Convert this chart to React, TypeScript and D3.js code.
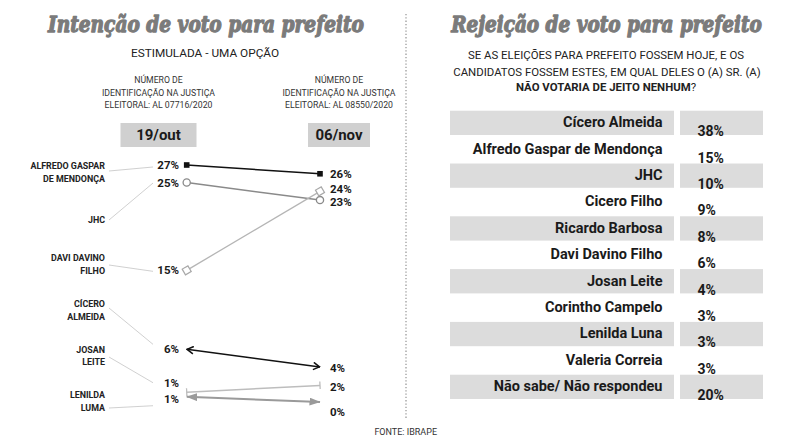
import React, { useEffect, useRef } from 'react';
import * as d3 from 'd3';

// Left panel: stimulated vote intention, two survey dates
const periods = ['19/out', '06/nov'];
const periodRegistry = ['ELEITORAL: AL 07716/2020', 'ELEITORAL: AL 08550/2020'];
const candidateLines = [
  ['ALFREDO GASPAR', 'DE MENDONÇA'],
  ['JHC'],
  ['DAVI DAVINO', 'FILHO'],
  ['CÍCERO', 'ALMEIDA'],
  ['JOSAN', 'LEITE'],
  ['LENILDA', 'LUMA'],
];
const votesOct19 = [27, 25, 15, 6, 1, 1];
const votesNov06 = [26, 23, 24, 4, 2, 0];

// Right panel: rejection
const rejectionNames = [
  'Cícero Almeida',
  'Alfredo Gaspar de Mendonça',
  'JHC',
  'Cicero Filho',
  'Ricardo Barbosa',
  'Davi Davino Filho',
  'Josan Leite',
  'Corintho Campelo',
  'Lenilda Luna',
  'Valeria Correia',
  'Não sabe/ Não respondeu',
];
const rejectionValues = [38, 15, 10, 9, 8, 6, 4, 3, 3, 3, 20];

// per-series look (marks, label nudges, leader lines)
const seriesStyle = [
  { color: '#111', width: 1.6, symbol: 'square', ends: '', startDy: 0, endDy: 0, lDy: 4, rDy: 4.5, nameY: 169, leadA: 2, leadB: -2 },
  { color: '#8a8a8a', width: 1.5, symbol: 'circle', ends: '', startDy: 0, endDy: 0, lDy: 4.5, rDy: 5.5, nameY: 222.5, leadA: -2.5, leadB: -4 },
  { color: '#b5b5b5', width: 1.3, symbol: 'diamond', ends: '', startDy: 0, endDy: 0, lDy: 4, rDy: 1.5, nameY: 261, leadA: 4, leadB: -3 },
  { color: '#111', width: 1.5, symbol: '', ends: 'chevron', startDy: 0, endDy: 0, lDy: 4, rDy: 5, nameY: 307, leadA: 1, leadB: -9 },
  { color: '#bdbdbd', width: 1.5, symbol: '', ends: 'bar', startDy: -1, endDy: 1, lDy: -5.5, rDy: 6, nameY: 352.5, leadA: 4.5, leadB: -4 },
  { color: '#9a9a9a', width: 2, symbol: '', ends: 'triangle', startDy: 3.5, endDy: 0, lDy: 6, rDy: 14, nameY: 398, leadA: 10, leadB: 3 },
];

const SANS = 'Roboto, "Open Sans", sans-serif';
const SLAB = '"DejaVu Serif", serif';

const App = () => {
  const ref = useRef<SVGSVGElement | null>(null);

  useEffect(() => {
    const svg = d3.select(ref.current);
    svg.selectAll('*').remove();

    const defs = svg.append('defs');
    const marker = (id: string, path: string, w: number, h: number, fill: string, stroke: string) => {
      defs.append('marker')
        .attr('id', id)
        .attr('viewBox', `0 0 ${w} ${h}`)
        .attr('refX', w - 0.5)
        .attr('refY', h / 2)
        .attr('markerWidth', w)
        .attr('markerHeight', h)
        .attr('markerUnits', 'userSpaceOnUse')
        .attr('orient', 'auto-start-reverse')
        .append('path')
        .attr('d', path)
        .attr('fill', fill)
        .attr('stroke', stroke)
        .attr('stroke-width', 1.5);
    };
    marker('chevron', 'M0.8,0.8 L7,4.5 L0.8,8.2', 8, 9, 'none', '#111');
    marker('triangle', 'M0,0 L11,4 L0,8 Z', 11, 8, '#9a9a9a', 'none');
    defs.append('marker')
      .attr('id', 'bar')
      .attr('viewBox', '0 0 2 8')
      .attr('refX', 1)
      .attr('refY', 4)
      .attr('markerWidth', 2)
      .attr('markerHeight', 8)
      .attr('markerUnits', 'userSpaceOnUse')
      .attr('orient', 'auto')
      .append('path')
      .attr('d', 'M1,0 V8')
      .attr('stroke', '#bdbdbd')
      .attr('stroke-width', 1.3);

    // heavy slab titles, squeezed horizontally to the reference width
    const title = (cx: number, len: number, label: string) => {
      const tg = svg.append('g');
      const t = tg.append('text')
        .attr('x', 0)
        .attr('y', 0)
        .attr('text-anchor', 'middle')
        .attr('font-family', SLAB)
        .attr('font-weight', 900)
        .attr('font-style', 'italic')
        .attr('font-size', 22)
        .attr('fill', '#7b7b7b')
        .attr('stroke', '#7b7b7b')
        .attr('stroke-width', 1.3)
        .attr('stroke-linejoin', 'round')
        .text(label);
      const natural = (t.node() as SVGTextElement).getComputedTextLength() || len;
      tg.attr('transform', `translate(${cx},32) scale(${len / natural},1)`);
    };

    // ---------- Left panel ----------
    title(206, 316, 'Intenção de voto para prefeito');

    svg.append('text')
      .attr('x', 205)
      .attr('y', 57)
      .attr('text-anchor', 'middle')
      .attr('font-family', SANS)
      .attr('font-size', 11.8)
      .attr('fill', '#222')
      .text('ESTIMULADA - UMA OPÇÃO');

    const x = d3.scalePoint<string>()
      .domain(periods)
      .range([186.7, 320]);

    const y = d3.scaleLinear()
      .domain([0, 27])
      .range([402, 165]);

    const boxCenter = [158.5, 339];
    const boxWidth = [76, 62];
    periods.forEach((p, i) => {
      const note = svg.append('text')
        .attr('text-anchor', 'middle')
        .attr('font-family', SANS)
        .attr('font-size', 8.7)
        .attr('fill', '#333');
      ['NÚMERO DE', 'IDENTIFICAÇÃO NA JUSTIÇA', periodRegistry[i]].forEach((line, k) => {
        note.append('tspan')
          .attr('x', boxCenter[i])
          .attr('y', 83 + k * 12.5)
          .text(line);
      });
      svg.append('rect')
        .attr('x', boxCenter[i] - boxWidth[i] / 2)
        .attr('y', 123)
        .attr('width', boxWidth[i])
        .attr('height', 24)
        .attr('fill', '#d0d0d0');
      svg.append('text')
        .attr('x', boxCenter[i])
        .attr('y', 140)
        .attr('text-anchor', 'middle')
        .attr('font-family', SANS)
        .attr('font-weight', 'bold')
        .attr('font-size', 15)
        .attr('fill', '#1a1a1a')
        .text(p);
    });

    const g = svg.append('g');
    candidateLines.forEach((lines, i) => {
      const s = seriesStyle[i];
      const x0 = x(periods[0]) as number;
      const x1 = x(periods[1]) as number;
      const y0 = y(votesOct19[i]) + s.startDy;
      const y1 = y(votesNov06[i]) + s.endDy;

      // name label
      const name = g.append('text')
        .attr('text-anchor', 'end')
        .attr('font-family', SANS)
        .attr('font-weight', 'bold')
        .attr('font-size', 8.9)
        .attr('fill', '#222');
      lines.forEach((line, k) => {
        name.append('tspan')
          .attr('x', 105)
          .attr('y', s.nameY + k * 12.6)
          .text(line);
      });

      // leader line
      g.append('line')
        .attr('x1', 109)
        .attr('y1', s.nameY + s.leadA)
        .attr('x2', 153)
        .attr('y2', y0 + s.lDy + s.leadB)
        .attr('stroke', '#c4c4c4')
        .attr('stroke-width', 0.8);

      // connecting line
      const line = g.append('line')
        .attr('x1', x0)
        .attr('y1', y0)
        .attr('x2', x1)
        .attr('y2', y1)
        .attr('stroke', s.color)
        .attr('stroke-width', s.width);
      if (s.ends) {
        line.attr('marker-start', `url(#${s.ends})`).attr('marker-end', `url(#${s.ends})`);
      }

      // point symbols
      [[x0, y0], [x1, y1]].forEach(([px, py]) => {
        if (s.symbol === 'square') {
          g.append('rect')
            .attr('x', px - 2.8).attr('y', py - 2.8)
            .attr('width', 5.6).attr('height', 5.6)
            .attr('fill', s.color);
        } else if (s.symbol === 'circle') {
          g.append('circle')
            .attr('cx', px).attr('cy', py).attr('r', 3.6)
            .attr('fill', '#fff')
            .attr('stroke', s.color)
            .attr('stroke-width', 1.3);
        } else if (s.symbol === 'diamond') {
          g.append('rect')
            .attr('x', -3.3).attr('y', -3.3)
            .attr('width', 6.6).attr('height', 6.6)
            .attr('transform', `translate(${px},${py}) rotate(-30)`)
            .attr('fill', '#fff')
            .attr('stroke', '#a8a8a8')
            .attr('stroke-width', 1.2);
        }
      });

      // value labels
      g.append('text')
        .attr('x', 179)
        .attr('y', y0 + s.lDy)
        .attr('text-anchor', 'end')
        .attr('font-family', SANS)
        .attr('font-weight', 'bold')
        .attr('font-size', 11.5)
        .attr('fill', '#1a1a1a')
        .text(`${votesOct19[i]}%`);
      g.append('text')
        .attr('x', 330)
        .attr('y', y1 + s.rDy)
        .attr('font-family', SANS)
        .attr('font-weight', 'bold')
        .attr('font-size', 11.5)
        .attr('fill', '#1a1a1a')
        .text(`${votesNov06[i]}%`);
    });

    svg.append('text')
      .attr('x', 437)
      .attr('y', 435)
      .attr('text-anchor', 'end')
      .attr('font-family', SANS)
      .attr('font-size', 9)
      .attr('fill', '#333')
      .text('FONTE: IBRAPE');

    // dotted divider
    svg.append('line')
      .attr('x1', 406).attr('x2', 406)
      .attr('y1', 14).attr('y2', 418)
      .attr('stroke', '#9a9a9a')
      .attr('stroke-width', 1.3)
      .attr('stroke-dasharray', '1.3,2');

    // ---------- Right panel ----------
    title(606.5, 311, 'Rejeição de voto para prefeito');

    const question = svg.append('text')
      .attr('text-anchor', 'middle')
      .attr('font-family', SANS)
      .attr('font-size', 11.4)
      .attr('fill', '#222');
    question.append('tspan').attr('x', 606).attr('y', 59)
      .text('SE AS ELEIÇÕES PARA PREFEITO FOSSEM HOJE, E OS');
    question.append('tspan').attr('x', 607).attr('y', 76)
      .text('CANDIDATOS FOSSEM ESTES, EM QUAL DELES O (A) SR. (A)');
    const last = question.append('tspan').attr('x', 606).attr('y', 91);
    last.append('tspan').attr('font-weight', 'bold').text('NÃO VOTARIA DE JEITO NENHUM');
    last.append('tspan').text('?');

    const rows = d3.scaleBand<string>()
      .domain(rejectionNames)
      .range([110.7, 399])
      .paddingInner(0.08);

    const table = svg.append('g');
    rejectionNames.forEach((name, i) => {
      const top = rows(name) as number;
      if (i % 2 === 0) {
        table.append('rect')
          .attr('x', 450).attr('y', top)
          .attr('width', 224).attr('height', rows.bandwidth())
          .attr('fill', '#dcdcdc');
        table.append('rect')
          .attr('x', 680).attr('y', top)
          .attr('width', 83).attr('height', rows.bandwidth())
          .attr('fill', '#dcdcdc');
      }
      table.append('text')
        .attr('x', 662.5)
        .attr('y', top + 16.5)
        .attr('text-anchor', 'end')
        .attr('font-family', SANS)
        .attr('font-weight', 'bold')
        .attr('font-size', 14.5)
        .attr('fill', '#1a1a1a')
        .text(name);
      table.append('text')
        .attr('x', 697.5)
        .attr('y', top + 25.5)
        .attr('font-family', SANS)
        .attr('font-weight', 'bold')
        .attr('font-size', 14)
        .attr('fill', '#1a1a1a')
        .text(`${rejectionValues[i]}%`);
    });
  }, []);

  return (
    <div style={{ position: 'absolute', left: 0, top: 0, width: 800, height: 443, background: '#fff' }}>
      <svg ref={ref} width={800} height={443} style={{ display: 'block' }} />
    </div>
  );
};

export default App;
